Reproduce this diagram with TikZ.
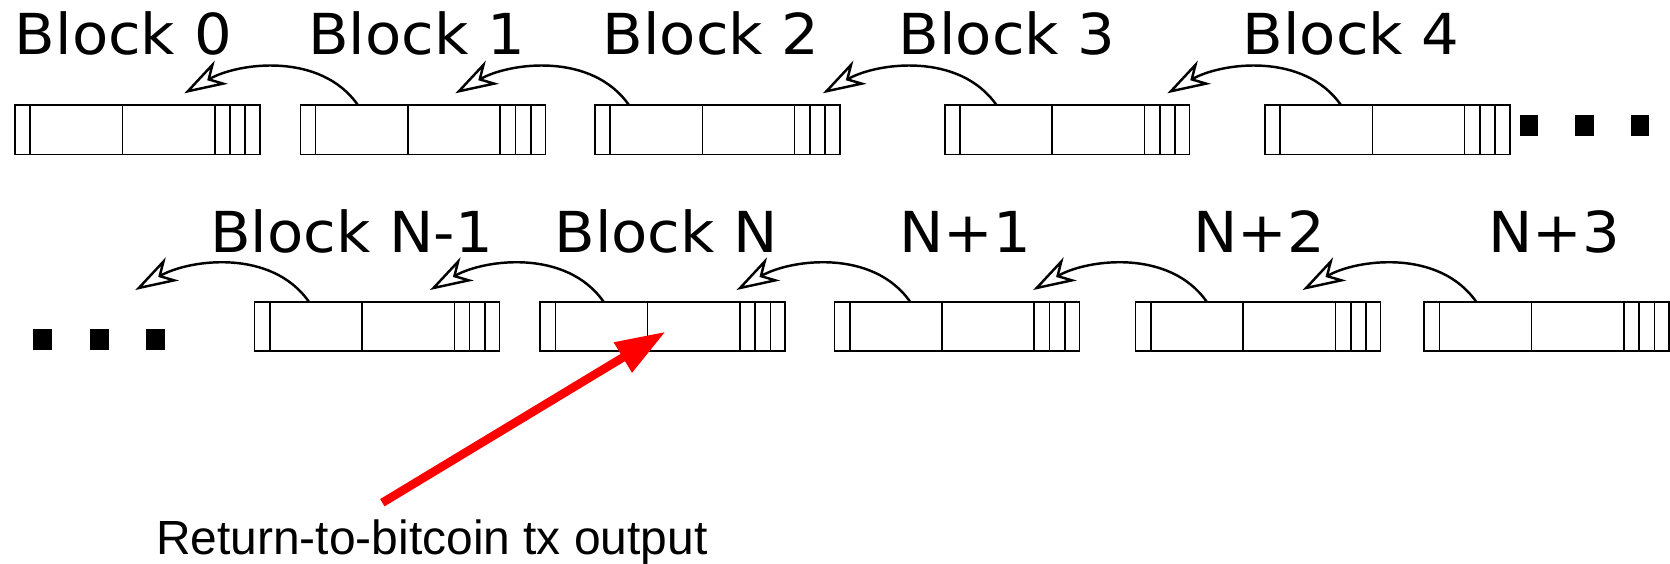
\documentclass[tikz,border=0pt]{standalone}
\usepackage{fontspec}
\newfontfamily\blkfont[FakeStretch=1.05]{DejaVu Sans}
\newfontfamily\notefont{Liberation Sans}
\usetikzlibrary{arrows.meta,calc}
\begin{document}
\begin{tikzpicture}[x=0.5pt,y=-0.5pt,
  blk/.style={draw, line width=0.75pt, minimum width=115pt, minimum height=23.2pt,
    inner sep=0pt, outer sep=0pt, anchor=north west},
  divider/.style={line width=0.75pt},
  lbl/.style={font=\blkfont\fontsize{26.5}{30}\selectfont, inner sep=0pt, anchor=base},
  note/.style={font=\notefont\fontsize{22.5}{26}\selectfont, inner sep=0pt, anchor=base},
  link/.style={line width=1.15pt, -{Stealth[open,length=20pt,width=12.5pt,inset=6pt]}},
  redarrow/.style={draw=red, line width=4pt, -{Triangle[length=23.5pt,width=15.5pt]}},
  dotsq/.style={fill=black},
]
\useasboundingbox (0,0) rectangle (1568,529);

% row 1 boxes
\node[blk] (b0) at (14,98.6) {};
\node[blk] (b1) at (282,98.6) {};
\node[blk] (b2) at (558.5,98.6) {};
\node[blk] (b3) at (887,98.6) {};
\node[blk] (b4) at (1187.5,98.6) {};
% row 2 boxes
\node[blk] (bm1) at (239,283.3) {};
\node[blk] (bn) at (507,283.3) {};
\node[blk] (bn1) at (783.5,283.3) {};
\node[blk] (bn2) at (1066.3,283.3) {};
\node[blk] (bn3) at (1337,283.3) {};

% dividers
\foreach \b in {b0,b1,b2,b3,b4,bm1,bn,bn1,bn2,bn3}{
  \foreach \d in {14.4,101,187.6,201.9,216.3}{
    \draw[divider] ($(\b.north west)+(\d,0)$) -- ($(\b.south west)+(\d,0)$);
  }
}

% labels
\node[lbl] (l0) at (115.8,51.6) {Block 0};
\node[lbl] (l1) at (391,51.6) {Block 1};
\node[lbl] (l2) at (667.7,51.6) {Block 2};
\node[lbl] (l3) at (945.5,51.6) {Block 3};
\node[lbl] (l4) at (1268.5,51.6) {Block 4};
\node[lbl] (lm1) at (330,237.3) {Block N-1};
\node[lbl] (ln) at (625.5,237.3) {Block N};
\node[lbl] (ln1) at (906,237.3) {N+1};
\node[lbl] (ln2) at (1182,237.3) {N+2};
\node[lbl] (ln3) at (1459,237.3) {N+3};

% back links
\foreach \b/\o in {b1/54,b2/32,b3/48.6,b4/71.5,bm1/51,bn/59.7,bn1/71,bn2/66.7,bn3/49}{
  \coordinate (s\b) at ($(\b.north west)+(\o,0)$);
  \coordinate (t\b) at ($(s\b)+(-163,-11)$);
  \draw[link] (s\b) .. controls +(-35,-50) and +(51,-29) .. (t\b);
}

% ellipsis squares
\foreach \x in {1427,1479,1531}{
  \fill[dotsq] (\x,108) rectangle ++(17.5,20);
}
\foreach \x in {31,84.5,137.5}{
  \fill[dotsq] (\x,309) rectangle ++(17.5,20);
}

% red pointer
\node[note] (txt) at (405.5,521) {Return-to-bitcoin tx output};
\coordinate (rtail) at (359,472);
\coordinate (rhead) at ($(bn.north west)+(118,28.1)$);
\draw[redarrow] (rtail) -- (rhead);
\end{tikzpicture}
\end{document}
